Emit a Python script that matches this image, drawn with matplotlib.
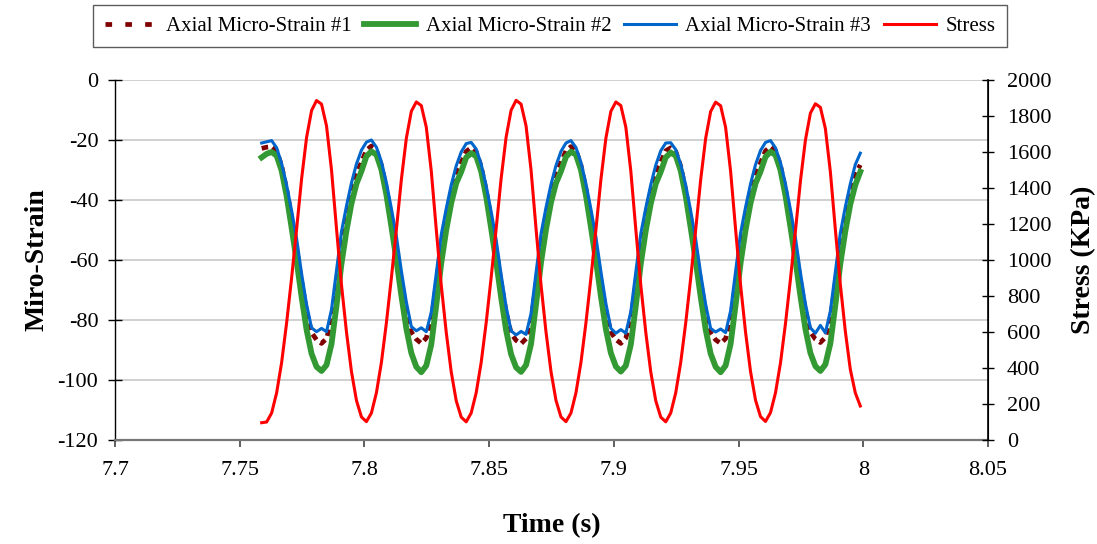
import numpy as np
import matplotlib
matplotlib.use("Agg")
import matplotlib.pyplot as plt
from matplotlib.lines import Line2D

plt.rcParams['font.family'] = ['Liberation Serif', 'DejaVu Serif']
plt.rcParams['axes.unicode_minus'] = False

# sampling grid (s)
time = np.round(7.7588 + 0.002 * np.arange(121), 4)

strain1 = [
    -22.8, -22.4, -22.2, -23.6, -28.6, -36.4, -46.0, -56.2, -67.2, -77.0, -84.2, -86.6, -87.8, -86.2, -80.2, -67.8, -55.0, -45.2, -37.2, -31.2,
    -27.4, -23.4, -22.0, -23.4, -28.4, -36.2, -45.8, -55.8, -66.8, -76.8, -84.0, -86.4, -87.8, -86.0, -80.0, -68.2, -55.2, -45.4, -37.4, -31.2,
    -27.6, -23.8, -22.6, -23.9, -28.9, -36.8, -46.4, -56.4, -67.4, -77.4, -84.4, -86.8, -87.9, -86.2, -80.2, -68.0, -55.0, -45.0, -37.0, -31.0,
    -27.5, -23.6, -22.2, -23.4, -28.4, -36.4, -46.0, -56.0, -67.0, -77.0, -84.0, -86.5, -87.8, -86.0, -80.0, -68.0, -55.0, -45.0, -37.0, -31.0,
    -27.4, -23.6, -22.6, -23.8, -28.8, -36.8, -46.2, -56.2, -67.2, -77.2, -84.2, -86.6, -87.8, -86.2, -80.0, -67.8, -54.8, -45.0, -37.0, -31.2,
    -27.6, -23.6, -22.2, -23.5, -28.5, -36.5, -46.0, -56.0, -67.0, -77.0, -84.0, -86.4, -87.5, -85.8, -79.8, -67.8, -55.0, -45.2, -37.2, -31.4,
    -28.3]

strain2 = [
    -25.8, -24.6, -24.0, -25.2, -30.2, -38.6, -49.2, -60.2, -72.2, -83.2, -91.2, -95.6, -97.0, -95.0, -88.0, -75.2, -61.2, -50.2, -41.2, -34.6,
    -30.4, -25.4, -23.8, -24.9, -29.8, -38.2, -48.8, -59.8, -71.8, -82.8, -91.0, -95.6, -97.4, -95.2, -88.2, -75.0, -61.0, -50.0, -41.0, -34.4,
    -30.6, -25.8, -24.4, -25.4, -30.4, -38.8, -49.4, -60.4, -72.4, -83.4, -91.4, -95.8, -97.3, -95.0, -88.0, -74.8, -60.8, -49.8, -40.8, -34.4,
    -30.4, -25.6, -23.9, -24.9, -29.9, -38.4, -49.0, -60.0, -72.0, -83.0, -91.0, -95.5, -97.2, -95.2, -88.2, -75.2, -61.2, -50.2, -41.2, -34.6,
    -30.6, -25.8, -24.2, -25.2, -30.2, -38.6, -49.2, -60.2, -72.2, -83.2, -91.2, -95.6, -97.4, -95.2, -88.0, -75.0, -61.0, -50.0, -41.0, -34.5,
    -30.5, -25.6, -23.9, -25.0, -30.0, -38.5, -49.0, -60.0, -72.0, -83.0, -91.0, -95.4, -97.0, -94.8, -87.8, -75.0, -61.2, -50.4, -41.4, -35.0,
    -30.6]

strain3 = [
    -21.0, -20.6, -20.2, -22.6, -27.8, -35.0, -43.5, -52.8, -64.5, -74.8, -82.6, -83.9, -82.8, -83.9, -76.5, -63.5, -50.5, -42.0, -34.3, -28.0,
    -23.4, -20.7, -20.0, -22.4, -27.2, -34.2, -42.8, -52.0, -63.6, -74.0, -82.2, -83.6, -82.6, -83.9, -77.4, -64.5, -51.5, -42.8, -35.0, -28.6,
    -24.0, -21.2, -20.8, -23.0, -28.0, -35.2, -43.8, -53.2, -64.8, -75.5, -83.6, -85.0, -83.8, -84.8, -77.8, -64.2, -51.2, -42.5, -34.8, -28.5,
    -23.8, -21.0, -20.2, -22.5, -27.4, -34.5, -43.0, -52.3, -63.8, -74.5, -82.8, -84.4, -83.2, -84.4, -77.2, -64.0, -51.2, -42.6, -34.9, -28.4,
    -23.6, -21.0, -20.9, -23.2, -28.0, -35.0, -43.6, -53.0, -64.5, -74.8, -82.8, -84.0, -83.0, -84.2, -77.0, -63.8, -51.0, -42.4, -34.6, -28.2,
    -23.5, -20.8, -20.2, -22.6, -27.5, -34.6, -43.2, -52.6, -64.2, -74.6, -82.6, -84.4, -81.8, -84.3, -77.0, -64.0, -51.0, -42.3, -34.6, -28.2,
    -24.4]

stress = [
    96, 100, 150, 262, 430, 650, 900, 1170, 1450, 1680, 1830, 1886, 1866, 1745, 1500, 1175, 862, 600, 380, 220,
    128, 102, 150, 262, 430, 650, 900, 1168, 1446, 1676, 1826, 1878, 1858, 1738, 1494, 1170, 860, 598, 378, 218,
    127, 101, 150, 262, 430, 650, 902, 1172, 1452, 1682, 1832, 1887, 1866, 1745, 1500, 1174, 862, 600, 380, 220,
    128, 102, 150, 262, 430, 650, 900, 1168, 1446, 1676, 1826, 1878, 1858, 1738, 1494, 1170, 860, 598, 378, 218,
    127, 101, 150, 262, 430, 649, 898, 1167, 1445, 1675, 1825, 1877, 1857, 1737, 1494, 1171, 861, 599, 380, 221,
    130, 103, 152, 262, 428, 646, 894, 1162, 1438, 1666, 1816, 1868, 1848, 1730, 1490, 1170, 864, 604, 392, 262,
    189]

series_labels = ["Axial Micro-Strain #1", "Axial Micro-Strain #2", "Axial Micro-Strain #3", "Stress"]
x_ticks = [7.7, 7.75, 7.8, 7.85, 7.9, 7.95, 8.0, 8.05]
x_ticklabels = ["7.7", "7.75", "7.8", "7.85", "7.9", "7.95", "8", "8.05"]
y_ticks = [-120, -100, -80, -60, -40, -20, 0]
y2_ticks = [0, 200, 400, 600, 800, 1000, 1200, 1400, 1600, 1800, 2000]

c1, c2, c3, c4 = "#800000", "#339933", "#0066CC", "#FF0000"

fig = plt.figure(figsize=(10.97, 5.44), dpi=100)
ax = fig.add_axes([115/1097, 104/544, 873/1097, 360/544])
ax2 = ax.twinx()

l1, = ax.plot(time, strain1, color=c1, lw=3.4, dashes=(1.4, 1.0), zorder=3)
l2, = ax.plot(time, strain2, color=c2, lw=4.2, zorder=4)
l3, = ax.plot(time, strain3, color=c3, lw=2.2, zorder=5)
l4, = ax2.plot(time, stress, color=c4, lw=2.2, zorder=3)

ax.set_xlim(7.7, 8.05)
ax.set_ylim(-120, 0)
ax2.set_ylim(0, 2000)
ax.set_xticks(x_ticks)
ax.set_xticklabels(x_ticklabels)
ax.set_yticks(y_ticks)
ax2.set_yticks(y2_ticks)

ax.yaxis.grid(True, color="#c8c8c8", lw=1.2)
ax.set_axisbelow(True)

for a in (ax, ax2):
    a.spines['top'].set_visible(False)
ax.spines['bottom'].set_color('#777777')
ax.spines['bottom'].set_linewidth(1.6)
ax.spines['left'].set_color('black')
ax.spines['left'].set_linewidth(1.0)
ax2.spines['right'].set_color('black')
ax2.spines['right'].set_linewidth(1.2)
ax2.spines['bottom'].set_visible(False)
ax2.spines['left'].set_visible(False)

ax.tick_params(axis='y', direction='inout', length=10, width=1, labelsize=16, pad=7)
ax.tick_params(axis='x', direction='out', length=5, width=1.2, color='#444444', labelsize=16, pad=10)
ax2.tick_params(axis='y', direction='inout', length=9, width=1, labelsize=16, pad=9)

ax.set_xlabel("Time (s)", fontsize=20, fontweight='bold', labelpad=24)
ax.set_ylabel("Miro-Strain", fontsize=20, fontweight='bold', labelpad=6)
ax2.set_ylabel("Stress (KPa)", fontsize=20, fontweight='bold', labelpad=14)

handles = [Line2D([], [], color=c1, lw=3.4, dashes=(1.4, 2.8)),
           Line2D([], [], color=c2, lw=4.2),
           Line2D([], [], color=c3, lw=2.2),
           Line2D([], [], color=c4, lw=2.2)]
leg = fig.legend(handles, series_labels, loc='upper center', bbox_to_anchor=(550/1097, 1 - 5/544),
                 ncol=4, fontsize=15, frameon=True, fancybox=False, edgecolor='#333333',
                 handlelength=2.5, handletextpad=0.45, columnspacing=0.6, borderpad=0.55,
                 borderaxespad=0)
leg.get_frame().set_linewidth(1.0)

fig.savefig("out.png", dpi=100)
